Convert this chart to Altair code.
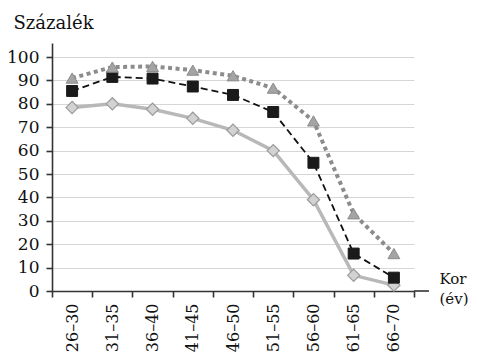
import altair as alt
import pandas as pd

categories = ["26–30", "31–35", "36–40", "41–45", "46–50", "51–55", "56–60", "61–65", "66–70"]
series_triangle = [91, 95.7, 96, 94.4, 92, 86.7, 72.7, 33, 16]
series_square = [85.5, 91.5, 90.8, 87.4, 83.8, 76.5, 54.8, 16, 5.7]
series_diamond = [78.4, 80, 77.7, 73.8, 68.7, 60, 39, 6.7, 2.5]
y_ticks = [0, 10, 20, 30, 40, 50, 60, 70, 80, 90, 100]

FONT = "DejaVu Serif"
W, H = 362, 248

def frame(vals, name):
    return pd.DataFrame({"kor": categories, "v": vals, "s": name})

x_enc = alt.X("kor:N", sort=categories,
              scale=alt.Scale(paddingInner=0, paddingOuter=0),
              axis=alt.Axis(title=["Kor", "(év)"], titleX=387, titleY=-8,
                            titleAlign="left", titleBaseline="alphabetic",
                            titleAngle=0, titleLineHeight=20, titleFontSize=15,
                            labelAngle=270, tickBand="extent", grid=False,
                            labelFontSize=16,
                            tickSize=6, labelPadding=6))
y_enc = alt.Y("v:Q", scale=alt.Scale(domain=[0, 106], nice=False),
              axis=alt.Axis(title="Százalék", values=y_ticks, titleX=-39, titleY=-15,
                            titleAngle=0, titleAlign="left", titleBaseline="alphabetic",
                            titleFontSize=18,
                            tickSize=6, labelPadding=7, grid=True))

def series(vals, name, line_props, point_props):
    base = alt.Chart(frame(vals, name)).encode(x=x_enc, y=y_enc)
    return base.mark_line(**line_props) + base.mark_point(filled=True, opacity=1, **point_props)

diamond = series(series_diamond, "d",
                 dict(color="#b8b8b8", strokeWidth=3.5),
                 dict(shape="diamond", size=150, fill="#d2d2d2", stroke="#9a9a9a", strokeWidth=1.2))
square = series(series_square, "s",
                dict(color="#111111", strokeWidth=1.8, strokeDash=[7, 4]),
                dict(shape="square", size=120, fill="#1a1a1a", stroke="#1a1a1a", strokeWidth=1))
triangle = series(series_triangle, "t",
                  dict(color="#8c8c8c", strokeWidth=4, strokeDash=[4, 3.5]),
                  dict(shape="triangle-up", size=140, fill="#a4a4a4", stroke="#8c8c8c", strokeWidth=1))

axis_ext = alt.Chart(pd.DataFrame({"a": [0]})).mark_rule(color="#333333", strokeWidth=1.6).encode(
    x=alt.value(W), x2=alt.value(W + 15), y=alt.value(H))

chart = alt.layer(diamond, square, triangle, axis_ext).properties(
    width=W, height=H,
    autosize=alt.AutoSizeParams(type="none"),
    padding={"left": 44, "top": 35, "right": 55, "bottom": 61},
).configure_axis(
    labelFont=FONT, titleFont=FONT, labelFontSize=17, titleFontSize=17,
    titleFontWeight="normal", labelColor="#111111", titleColor="#111111",
    domainColor="#333333", domainWidth=1.6, tickColor="#333333", tickWidth=1.6,
    gridColor="#d6d6d6", gridWidth=1,
).configure_view(stroke=None)

chart.save("out.html", embed_options={"renderer": "svg", "actions": False})
